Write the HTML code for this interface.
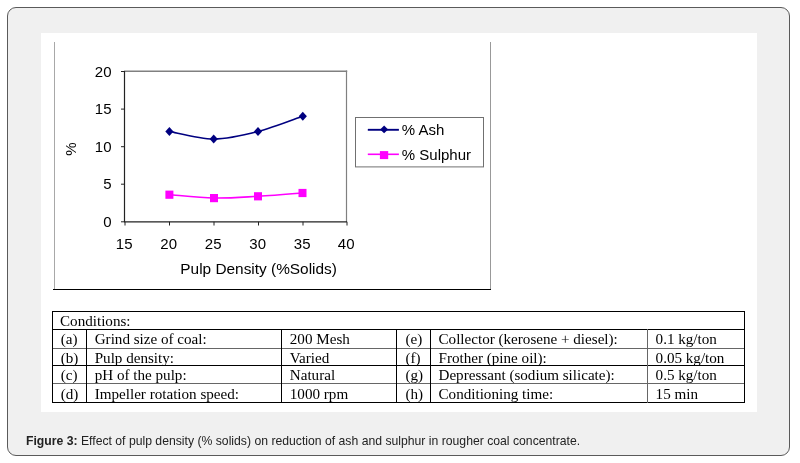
<!DOCTYPE html>
<html>
<head>
<meta charset="utf-8">
<style>
html,body{margin:0;padding:0;background:#fff;width:800px;height:463px;overflow:hidden;}
body{position:relative;font-family:"Liberation Sans",sans-serif;}
.frame{position:absolute;left:7px;top:7px;width:781px;height:447px;border:1px solid #5a5a5a;border-radius:9px;background:#f0f0f0;box-sizing:content-box;}
.white{position:absolute;left:41px;top:33px;width:716px;height:379px;background:#fff;}
.ln{position:absolute;background:#000;}
.t{position:absolute;font-family:"Liberation Serif",serif;font-size:15.12px;color:#000;white-space:nowrap;line-height:16px;}
.cap{position:absolute;left:26px;top:433px;font-size:13px;line-height:16px;color:#222;white-space:nowrap;transform:scaleX(0.939);transform-origin:0 0;}
.cap b{color:#222;}
svg{position:absolute;left:0;top:0;}
.layer{position:absolute;left:0;top:0;width:800px;height:463px;will-change:transform;}
svg text{font-family:"Liberation Sans",sans-serif;font-size:15px;fill:#000;}
</style>
</head>
<body>
<div class="frame"></div>
<div class="white"></div>
<div class="layer">

<svg width="800" height="463" viewBox="0 0 800 463">
  <!-- chart frame -->
  <line x1="54.5" y1="42" x2="54.5" y2="289" stroke="#a8a8a8" stroke-width="1"/>
  <line x1="490.5" y1="42" x2="490.5" y2="289" stroke="#999" stroke-width="1"/>
  <line x1="53" y1="289.5" x2="491" y2="289.5" stroke="#000" stroke-width="1"/>
  <!-- plot area -->
  <line x1="124" y1="71.2" x2="347.2" y2="71.2" stroke="#808080" stroke-width="1.5"/>
  <line x1="346.5" y1="70.5" x2="346.5" y2="222" stroke="#808080" stroke-width="1.2"/>
  <line x1="124.5" y1="71" x2="124.5" y2="222" stroke="#222" stroke-width="1.2"/>
  <line x1="124" y1="221.8" x2="347" y2="221.8" stroke="#222" stroke-width="1.2"/>
  <!-- y ticks -->
  <g stroke="#222" stroke-width="1">
    <line x1="121" y1="71.5" x2="124.5" y2="71.5"/>
    <line x1="121" y1="109.1" x2="124.5" y2="109.1"/>
    <line x1="121" y1="146.7" x2="124.5" y2="146.7"/>
    <line x1="121" y1="184.2" x2="124.5" y2="184.2"/>
    <line x1="121" y1="221.8" x2="124.5" y2="221.8"/>
  </g>
  <!-- x ticks -->
  <g stroke="#222" stroke-width="1">
    <line x1="125" y1="221.8" x2="125" y2="225.5"/>
    <line x1="169.5" y1="221.8" x2="169.5" y2="225.5"/>
    <line x1="214" y1="221.8" x2="214" y2="225.5"/>
    <line x1="258.5" y1="221.8" x2="258.5" y2="225.5"/>
    <line x1="303" y1="221.8" x2="303" y2="225.5"/>
    <line x1="347" y1="221.8" x2="347" y2="225.5"/>
  </g>
  <!-- y labels -->
  <g text-anchor="end">
    <text x="111.5" y="76.5">20</text>
    <text x="111.5" y="114">15</text>
    <text x="111.5" y="151.6">10</text>
    <text x="111.5" y="189.2">5</text>
    <text x="111.5" y="226.8">0</text>
  </g>
  <!-- x labels -->
  <g text-anchor="middle">
    <text x="124.2" y="249">15</text>
    <text x="168.7" y="249">20</text>
    <text x="213.2" y="249">25</text>
    <text x="257.7" y="249">30</text>
    <text x="302.2" y="249">35</text>
    <text x="346.2" y="249">40</text>
  </g>
  <text x="258.6" y="273.7" text-anchor="middle" style="font-size:15.4px">Pulp Density (%Solids)</text>
  <text x="0" y="0" transform="translate(75.5,149) rotate(-90)" text-anchor="middle">%</text>
  <!-- series -->
  <path d="M169.4,131.4 C176.8,132.7 198.9,139.0 213.7,139.0 C228.5,139.0 243.2,135.3 258.0,131.5 C272.8,127.7 295.2,118.8 302.6,116.3" fill="none" stroke="#000080" stroke-width="1.6"/>
  <path d="M169.4,194.7 C176.8,195.2 199.2,197.7 214.0,198.0 C228.8,198.3 243.2,197.1 258.0,196.3 C272.8,195.5 295.1,193.6 302.5,193.0" fill="none" stroke="#ff00ff" stroke-width="1.6"/>
  <g fill="#000080">
    <path d="M169.4,126.9 L173.5,131.4 L169.4,135.9 L165.3,131.4Z"/>
    <path d="M213.7,134.5 L217.8,139.0 L213.7,143.5 L209.6,139.0Z"/>
    <path d="M258.0,127.0 L262.1,131.5 L258.0,136.0 L253.9,131.5Z"/>
    <path d="M302.8,111.8 L306.9,116.3 L302.8,120.8 L298.7,116.3Z"/>
  </g>
  <g fill="#ff00ff">
    <rect x="165.4" y="190.6" width="8" height="8.2"/>
    <rect x="210" y="194" width="8" height="8.2"/>
    <rect x="254" y="192.2" width="8" height="8.2"/>
    <rect x="298.5" y="188.9" width="8" height="8.2"/>
  </g>
  <!-- legend -->
  <rect x="355.5" y="117.5" width="128" height="49.4" fill="#fff" stroke="#707070" stroke-width="1"/>
  <line x1="367.8" y1="129.8" x2="398.9" y2="129.8" stroke="#000080" stroke-width="1.9"/>
  <path d="M384.1,125.4 L388.1,129.4 L384.1,133.3 L380.1,129.4Z" fill="#000080"/>
  <line x1="367.8" y1="154.3" x2="398.9" y2="154.3" stroke="#ff00ff" stroke-width="1.6"/>
  <rect x="379.9" y="151.1" width="8.3" height="8" fill="#ff00ff"/>
  <text x="401.8" y="134.6">% Ash</text>
  <text x="401.8" y="159.8">% Sulphur</text>
</svg>

<!-- table lines -->
<div class="ln" style="left:52px;top:311px;width:693px;height:1px;"></div>
<div class="ln" style="left:52px;top:329px;width:693px;height:1px;"></div>
<div class="ln" style="left:52px;top:348px;width:693px;height:1px;background:#666;"></div>
<div class="ln" style="left:52px;top:365px;width:693px;height:1px;"></div>
<div class="ln" style="left:52px;top:383px;width:693px;height:1px;background:#666;"></div>
<div class="ln" style="left:52px;top:402px;width:693px;height:1px;"></div>
<div class="ln" style="left:52px;top:311px;width:1px;height:92px;"></div>
<div class="ln" style="left:744px;top:311px;width:1px;height:92px;"></div>
<div class="ln" style="left:86px;top:329px;width:1px;height:74px;"></div>
<div class="ln" style="left:281px;top:329px;width:1px;height:74px;"></div>
<div class="ln" style="left:396px;top:329px;width:1px;height:74px;"></div>
<div class="ln" style="left:430px;top:329px;width:1px;height:74px;"></div>
<div class="ln" style="left:647px;top:329px;width:1px;height:74px;background:#666;"></div>

<!-- table text -->
<div class="t" style="left:60px;top:313px;">Conditions:</div>

<div class="t" style="left:60.7px;top:331px;">(a)</div>
<div class="t" style="left:94.7px;top:331px;">Grind size of coal:</div>
<div class="t" style="left:289.8px;top:331px;">200 Mesh</div>
<div class="t" style="left:405.4px;top:331px;">(e)</div>
<div class="t" style="left:438.5px;top:331px;">Collector (kerosene + diesel):</div>
<div class="t" style="left:655.6px;top:331px;">0.1 kg/ton</div>

<div class="t" style="left:60.7px;top:350px;">(b)</div>
<div class="t" style="left:94.7px;top:350px;">Pulp density:</div>
<div class="t" style="left:289.8px;top:350px;">Varied</div>
<div class="t" style="left:405.4px;top:350px;">(f)</div>
<div class="t" style="left:438.5px;top:350px;">Frother (pine oil):</div>
<div class="t" style="left:655.6px;top:350px;">0.05 kg/ton</div>

<div class="t" style="left:60.7px;top:367px;">(c)</div>
<div class="t" style="left:94.7px;top:367px;">pH of the pulp:</div>
<div class="t" style="left:289.8px;top:367px;">Natural</div>
<div class="t" style="left:405.4px;top:367px;">(g)</div>
<div class="t" style="left:438.5px;top:367px;">Depressant (sodium silicate):</div>
<div class="t" style="left:655.6px;top:367px;">0.5 kg/ton</div>

<div class="t" style="left:60.7px;top:386px;">(d)</div>
<div class="t" style="left:94.7px;top:386px;">Impeller rotation speed:</div>
<div class="t" style="left:289.8px;top:386px;">1000 rpm</div>
<div class="t" style="left:405.4px;top:386px;">(h)</div>
<div class="t" style="left:438.5px;top:386px;">Conditioning time:</div>
<div class="t" style="left:655.6px;top:386px;">15 min</div>

</div>
<div class="cap"><b>Figure 3:</b> Effect of pulp density (% solids) on reduction of ash and sulphur in rougher coal concentrate.</div>
</body>
</html>
